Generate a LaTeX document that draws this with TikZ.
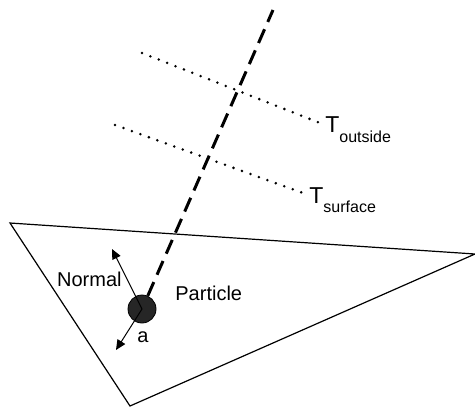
\documentclass[tikz,border=0pt]{standalone}
\usepackage{fontspec}
\setmainfont{Liberation Sans}
\usetikzlibrary{arrows.meta, positioning, calc}

\begin{document}
\begin{tikzpicture}[x=0.5pt, y=-0.5pt,
    every node/.style={inner sep=0pt, font=\fontsize{10}{12}\selectfont},
    probe/.style={line width=1.4pt, line cap=round, dash pattern=on 0pt off 4.5pt},
    ray/.style={line width=1.5pt, dash pattern=on 7.5pt off 4pt},
    vec/.style={line width=0.5pt, -{Triangle[length=5pt, width=4.5pt]}},
    particle/.style={circle, draw, line width=0.4pt, fill=black!85, minimum size=14pt}]
    \useasboundingbox (0,0) rectangle (475,407);
    % surface
    \draw[line width=0.6pt] (10,223) -- (475,254) -- (130,406) -- cycle;
    \node[particle] (part) at (142,309) {};
    \coordinate (sky) at (273,10);
    \draw[ray] (part) -- (sky);
    % temperature probes
    \coordinate (o1) at (142,53);
    \coordinate (o2) at (320,123);
    \coordinate (s1) at (115,125);
    \coordinate (s2) at (303,193);
    \draw[probe] (o1) -- (o2);
    \draw[probe] (s1) -- (s2);
    \node[anchor=base west] (tout) at (325,132)
        {{\fontsize{11.5}{13}\selectfont T}\raisebox{-5pt}{\fontsize{8}{10}\selectfont outside}};
    \node[anchor=base west] (tsurf) at (309,203)
        {{\fontsize{11.5}{13}\selectfont T}\raisebox{-4.5pt}{\fontsize{8}{10}\selectfont surface}};
    % normal and a
    \coordinate (n) at (112,249);
    \coordinate (d) at (116,350);
    \draw[vec] (part.center) -- (n);
    \draw[vec] (part.center) -- (d);
    \node[anchor=base east] (normal) at (122,286) {Normal};
    \node[anchor=base west] (plabel) at (175,300) {Particle};
    \node[anchor=base west] (alabel) at (137,342) {a};
\end{tikzpicture}
\end{document}
